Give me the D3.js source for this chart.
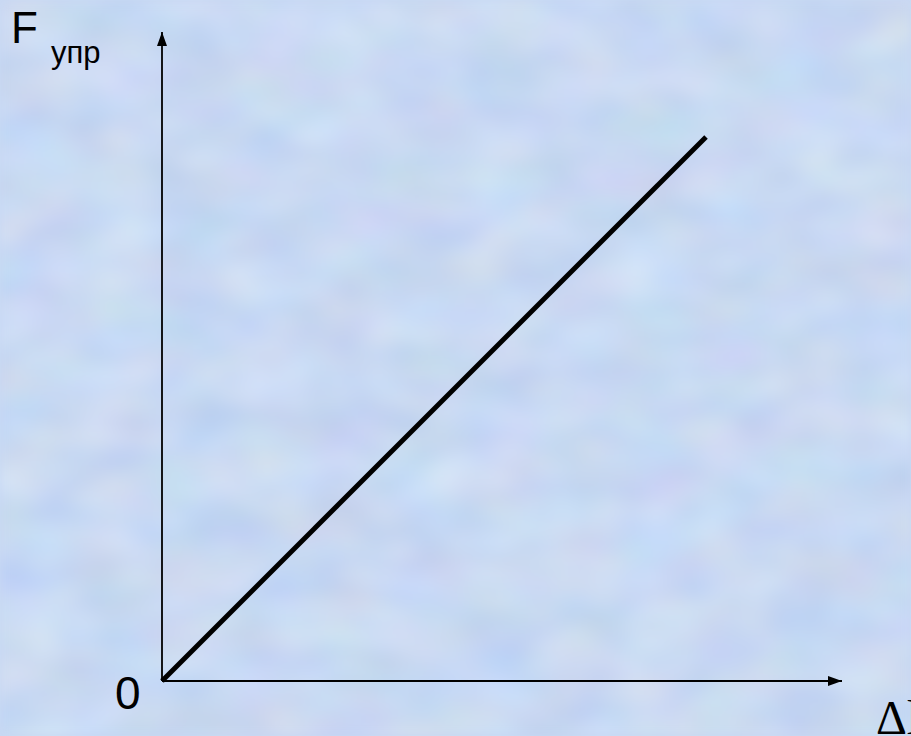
<!DOCTYPE html>
<html><head><meta charset="utf-8">
<script src="https://cdn.jsdelivr.net/npm/d3@7"></script>
<style>html,body{margin:0;padding:0;overflow:hidden;background:#c9d9f4}</style>
</head><body>
<script>
// Data: elastic force vs. elongation (Hooke's law, linear through origin)
const elongation = [0, 10];
const force = [0, 10];
const axisLabels = { y: "F", ySub: "упр", x: "Δl", origin: "0" };
const xAxisMax = 12.5;
const yAxisMax = 11.93;

const W = 911, H = 736;
const svg = d3.select("body").append("svg").attr("width", W).attr("height", H);
const defs = svg.append("defs");

// textured pastel background
const f = defs.append("filter").attr("id","tex").attr("x",0).attr("y",0).attr("width","100%").attr("height","100%")
  .attr("color-interpolation-filters","sRGB");
f.append("feTurbulence").attr("type","fractalNoise").attr("baseFrequency","0.013 0.02").attr("numOctaves",2).attr("seed",11).attr("result","n");
f.append("feColorMatrix").attr("in","n").attr("type","matrix")
  .attr("values","0.12 0.06 0 0 0.695  0.04 0.10 0 0 0.78  0 0.02 0.07 0 0.905  0 0 0 0 1");
f.append("feGaussianBlur").attr("stdDeviation",4);
svg.append("rect").attr("width",W).attr("height",H).attr("fill","#c9d9f4");
svg.append("rect").attr("width",W).attr("height",H).attr("filter","url(#tex)");

const x = d3.scaleLinear().domain([0, xAxisMax]).range([162, 842]);
const y = d3.scaleLinear().domain([0, yAxisMax]).range([681, 32]);

defs.append("marker").attr("id","arr").attr("viewBox","0 0 14 10").attr("refX",14).attr("refY",5)
  .attr("markerWidth",14).attr("markerHeight",10).attr("markerUnits","userSpaceOnUse").attr("orient","auto")
  .append("path").attr("d","M0,0 L14,5 L0,10 Z").attr("fill","#000");

// axes
svg.append("line").attr("x1",x(0)).attr("y1",y(0)).attr("x2",x(xAxisMax)).attr("y2",y(0))
  .attr("stroke","#000").attr("stroke-width",2).attr("marker-end","url(#arr)");
svg.append("line").attr("x1",x(0)).attr("y1",y(0)).attr("x2",x(0)).attr("y2",y(yAxisMax))
  .attr("stroke","#000").attr("stroke-width",1.8).attr("marker-end","url(#arr)");

// data line
const line = d3.line().x((d,i)=>x(elongation[i])).y(d=>y(d));
svg.append("path").attr("d", line(force)).attr("fill","none").attr("stroke","#000").attr("stroke-width",5);

// labels
const sans = "'Liberation Sans', Arial, sans-serif";
svg.append("text").attr("x",11).attr("y",43).attr("font-family",sans).attr("font-size",44).text(axisLabels.y);
svg.append("text").attr("x",51).attr("y",63).attr("font-family",sans).attr("font-size",31).text(axisLabels.ySub);
svg.append("text").attr("x",115).attr("y",709).attr("font-family",sans).attr("font-size",46).text(axisLabels.origin);
svg.append("text").attr("x",876).attr("y",734).attr("font-family","'Liberation Serif','DejaVu Serif',serif").attr("font-size",48).text(axisLabels.x);
</script>
</body></html>
